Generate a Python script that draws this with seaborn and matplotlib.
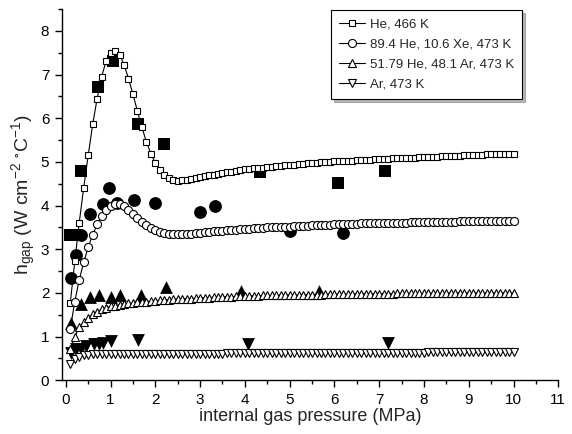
import numpy as np
import pandas as pd
import matplotlib
matplotlib.use("Agg")
import matplotlib.pyplot as plt
import seaborn as sns
from matplotlib.ticker import MultipleLocator

# ---------------- data ----------------
sim_p = [0.1, 0.2, 0.3, 0.4, 0.5, 0.6, 0.7, 0.8, 0.9, 1.0,
         1.1, 1.2, 1.3, 1.4, 1.5, 1.6, 1.7, 1.8, 1.9, 2.0,
         2.1, 2.2, 2.3, 2.4, 2.5, 2.6, 2.7, 2.8, 2.9, 3.0,
         3.1, 3.2, 3.3, 3.4, 3.5, 3.6, 3.7, 3.8, 3.9, 4.0,
         4.1, 4.2, 4.3, 4.4, 4.5, 4.6, 4.7, 4.8, 4.9, 5.0,
         5.1, 5.2, 5.3, 5.4, 5.5, 5.6, 5.7, 5.8, 5.9, 6.0,
         6.1, 6.2, 6.3, 6.4, 6.5, 6.6, 6.7, 6.8, 6.9, 7.0,
         7.1, 7.2, 7.3, 7.4, 7.5, 7.6, 7.7, 7.8, 7.9, 8.0,
         8.1, 8.2, 8.3, 8.4, 8.5, 8.6, 8.7, 8.8, 8.9, 9.0,
         9.1, 9.2, 9.3, 9.4, 9.5, 9.6, 9.7, 9.8, 9.9, 10.0]

sim_he = [1.77, 2.72, 3.61, 4.41, 5.15, 5.86, 6.45, 6.95, 7.31, 7.50,
          7.55, 7.46, 7.23, 6.91, 6.55, 6.16, 5.79, 5.46, 5.19, 4.97,
          4.81, 4.69, 4.62, 4.58, 4.57, 4.58, 4.59, 4.61, 4.63, 4.65,
          4.67, 4.69, 4.71, 4.73, 4.75, 4.77, 4.78, 4.80, 4.81, 4.83,
          4.84, 4.85, 4.86, 4.87, 4.88, 4.89, 4.90, 4.91, 4.92, 4.93,
          4.94, 4.95, 4.96, 4.97, 4.97, 4.98, 4.99, 5.00, 5.00, 5.01,
          5.02, 5.02, 5.03, 5.03, 5.04, 5.04, 5.05, 5.05, 5.06, 5.06,
          5.07, 5.07, 5.08, 5.08, 5.09, 5.09, 5.10, 5.10, 5.11, 5.11,
          5.11, 5.12, 5.12, 5.13, 5.13, 5.14, 5.14, 5.14, 5.15, 5.15,
          5.16, 5.16, 5.16, 5.17, 5.17, 5.17, 5.18, 5.18, 5.18, 5.19]

sim_hexe = [1.17, 1.80, 2.30, 2.70, 3.05, 3.33, 3.57, 3.75, 3.89, 3.98,
            4.03, 4.03, 3.98, 3.90, 3.81, 3.72, 3.63, 3.55, 3.48, 3.43,
            3.39, 3.37, 3.35, 3.35, 3.35, 3.35, 3.36, 3.36, 3.37, 3.38,
            3.39, 3.40, 3.41, 3.42, 3.42, 3.43, 3.44, 3.45, 3.46, 3.47,
            3.47, 3.48, 3.48, 3.49, 3.50, 3.50, 3.51, 3.51, 3.52, 3.52,
            3.53, 3.53, 3.54, 3.54, 3.55, 3.55, 3.56, 3.56, 3.56, 3.57,
            3.57, 3.57, 3.58, 3.58, 3.58, 3.59, 3.59, 3.59, 3.60, 3.60,
            3.60, 3.60, 3.61, 3.61, 3.61, 3.61, 3.62, 3.62, 3.62, 3.62,
            3.62, 3.63, 3.63, 3.63, 3.63, 3.63, 3.63, 3.64, 3.64, 3.64,
            3.64, 3.64, 3.64, 3.64, 3.65, 3.65, 3.65, 3.65, 3.65, 3.65]

sim_hear = [0.72, 0.99, 1.21, 1.33, 1.43, 1.51, 1.57, 1.62, 1.66, 1.69,
            1.71, 1.73, 1.75, 1.76, 1.77, 1.78, 1.79, 1.80, 1.81, 1.82,
            1.83, 1.84, 1.84, 1.85, 1.86, 1.86, 1.87, 1.87, 1.88, 1.88,
            1.89, 1.89, 1.90, 1.90, 1.91, 1.91, 1.91, 1.92, 1.92, 1.92,
            1.93, 1.93, 1.93, 1.94, 1.94, 1.94, 1.94, 1.95, 1.95, 1.95,
            1.95, 1.95, 1.96, 1.96, 1.96, 1.96, 1.96, 1.97, 1.97, 1.97,
            1.97, 1.97, 1.97, 1.97, 1.98, 1.98, 1.98, 1.98, 1.98, 1.98,
            1.98, 1.98, 1.98, 1.99, 1.99, 1.99, 1.99, 1.99, 1.99, 1.99,
            1.99, 1.99, 1.99, 1.99, 1.99, 2.00, 2.00, 2.00, 2.00, 2.00,
            2.00, 2.00, 2.00, 2.00, 2.00, 2.00, 2.00, 2.00, 2.00, 2.00]

sim_ar = [0.37, 0.48, 0.54, 0.57, 0.58, 0.59, 0.59, 0.60, 0.60, 0.60,
          0.60, 0.60, 0.60, 0.60, 0.60, 0.60, 0.60, 0.60, 0.60, 0.60,
          0.61, 0.61, 0.61, 0.61, 0.61, 0.61, 0.61, 0.61, 0.61, 0.61,
          0.61, 0.61, 0.61, 0.61, 0.61, 0.62, 0.62, 0.62, 0.62, 0.62,
          0.62, 0.62, 0.62, 0.62, 0.62, 0.62, 0.62, 0.62, 0.62, 0.62,
          0.62, 0.62, 0.62, 0.62, 0.62, 0.63, 0.63, 0.63, 0.63, 0.63,
          0.63, 0.63, 0.63, 0.63, 0.63, 0.63, 0.63, 0.63, 0.63, 0.63,
          0.63, 0.63, 0.63, 0.63, 0.63, 0.63, 0.63, 0.63, 0.63, 0.63,
          0.64, 0.64, 0.64, 0.64, 0.64, 0.64, 0.64, 0.64, 0.64, 0.64,
          0.64, 0.64, 0.64, 0.64, 0.64, 0.64, 0.64, 0.64, 0.64, 0.64]

exp_he_p = [0.1, 0.25, 0.34, 0.73, 1.06, 1.61, 2.2, 4.34, 6.07, 7.13]
exp_he_h = [3.33, 3.33, 4.79, 6.72, 7.31, 5.86, 5.40, 4.76, 4.52, 4.79]

exp_hexe_p = [0.12, 0.22, 0.33, 0.53, 0.82, 0.97, 1.15, 1.53, 1.99, 3.0, 3.34, 5.0, 6.19]
exp_hexe_h = [2.33, 2.86, 3.33, 3.81, 4.04, 4.41, 4.06, 4.12, 4.06, 3.86, 4.00, 3.42, 3.38]

exp_hear_p = [0.11, 0.33, 0.53, 0.75, 1.0, 1.22, 1.68, 2.24, 3.92, 5.66]
exp_hear_h = [1.32, 1.75, 1.90, 1.94, 1.90, 1.94, 1.94, 2.14, 2.04, 2.05]

exp_ar_p = [0.11, 0.23, 0.33, 0.45, 0.64, 0.75, 0.84, 1.0, 1.61, 4.06, 7.19]
exp_ar_h = [0.63, 0.71, 0.72, 0.79, 0.83, 0.84, 0.86, 0.90, 0.92, 0.84, 0.86]

labels = ["He, 466 K", "89.4 He, 10.6 Xe, 473 K",
          "51.79 He, 48.1 Ar, 473 K", "Ar, 473 K"]

# ---------------- style ----------------
sns.set_style("ticks")
plt.rcParams["font.family"] = ["Liberation Sans", "DejaVu Sans"]
plt.rcParams["mathtext.fontset"] = "custom"
plt.rcParams["mathtext.rm"] = "Liberation Sans"
plt.rcParams["mathtext.it"] = "Liberation Sans"
plt.rcParams["mathtext.default"] = "regular"

fig = plt.figure(figsize=(5.72, 4.34), dpi=100)
ax = fig.add_axes([0.108, 0.124, 0.868, 0.855])

# experimental (filled) first, so simulated (open) markers lie on top
exp_sets = [(exp_he_p, exp_he_h, "s", 75),
            (exp_hexe_p, exp_hexe_h, "o", 85),
            (exp_hear_p, exp_hear_h, "^", 85),
            (exp_ar_p, exp_ar_h, "v", 85)]
for p, h, m, s in exp_sets:
    sns.scatterplot(x=p, y=h, marker=m, s=s, color="black",
                    edgecolor="black", linewidth=0, ax=ax, zorder=2)

sim_sets = [(sim_he, "s", 4.8), (sim_hexe, "o", 5.8),
            (sim_hear, "^", 6.2), (sim_ar, "v", 6.2)]
handles = []
for (h, m, ms), lab in zip(sim_sets, labels):
    sns.lineplot(x=sim_p, y=h, ax=ax, color="black", linewidth=0.8,
                 marker=m, markersize=ms, markerfacecolor="white",
                 markeredgecolor="black", markeredgewidth=0.8,
                 label=lab, zorder=3, sort=False, estimator=None)
    handles.append(ax.lines[-1])

ax.set_xlim(-0.09, 11.0)
ax.set_ylim(0, 8.5)
ax.xaxis.set_major_locator(MultipleLocator(1))
ax.xaxis.set_minor_locator(MultipleLocator(0.5))
ax.yaxis.set_major_locator(MultipleLocator(1))
ax.yaxis.set_minor_locator(MultipleLocator(0.5))
ax.tick_params(which="major", direction="out", length=5, width=1,
               labelsize=11, color="black", labelcolor="black", pad=4)
ax.tick_params(which="minor", direction="out", length=3, width=1,
               color="black")
for sp in ["top", "right"]:
    ax.spines[sp].set_visible(False)
for sp in ["left", "bottom"]:
    ax.spines[sp].set_color("black")
    ax.spines[sp].set_linewidth(1.0)

ax.set_xlabel("internal gas pressure (MPa)", fontsize=13, labelpad=1)
ax.set_ylabel(r"h$_{\rm gap}$ (W cm$^{-2}$ $^{\circ}$C$^{-1}$)",
              fontsize=14, labelpad=2)

leg = ax.legend(handles=handles, labels=labels, loc="upper right",
                bbox_to_anchor=(0.927, 0.997), borderaxespad=0,
                fontsize=9.5, frameon=True, fancybox=False,
                shadow={"ox": 2, "oy": -2, "color": "0.45"},
                handlelength=2.0, handletextpad=0.35, labelspacing=0.6,
                borderpad=0.6)
leg.get_frame().set_edgecolor("black")
leg.get_frame().set_linewidth(0.8)
leg.get_frame().set_alpha(1)

fig.savefig("out.png", dpi=100)
